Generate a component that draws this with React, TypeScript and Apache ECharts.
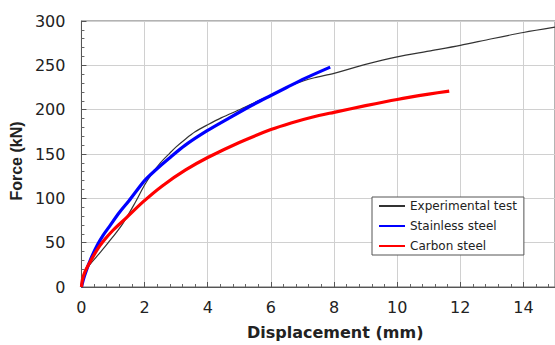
import React, { useEffect, useRef } from "react";
import * as echarts from "echarts";

const seriesNames = ["Experimental test", "Stainless steel", "Carbon steel"];

const expDisp = [0, 0.08, 0.2, 0.5, 0.85, 1.3, 1.7, 2.0, 2.24, 2.5, 2.8, 3.0, 3.3, 3.6, 4.0, 4.44, 5.07, 5.6, 6.0, 6.54, 7.0, 7.38, 8.0, 9.0, 10.0, 11.0, 12.0, 13.0, 14.0, 15.0];
const expForce = [0, 12, 22, 35, 50, 71, 95, 115, 128, 140, 151, 158, 167, 175, 183, 191, 201, 210, 216, 226, 232, 236, 241, 251, 259.5, 266, 272.5, 280, 287, 293];

const stainDisp = [0, 0.1, 0.3, 0.5, 0.68, 0.9, 1.2, 1.5, 2.0, 2.35, 2.77, 3.29, 3.97, 4.65, 5.4, 6.0, 6.5, 7.06, 7.88];
const stainForce = [0, 13, 32, 47, 58, 69, 84, 97, 120, 132, 145, 160, 176, 190, 205, 216, 225, 235, 248];

const carbonDisp = [0, 0.03, 0.11, 0.27, 0.48, 0.69, 1.0, 1.42, 1.95, 2.56, 3.3, 4.0, 5.0, 6.0, 6.64, 7.3, 8.0, 9.0, 10.0, 11.0, 11.65];
const carbonForce = [0, 8, 17, 28, 41, 51.5, 64, 78, 96, 114, 132, 146, 163, 177.5, 185, 191.5, 197, 204.5, 211.5, 217.5, 221];

const xTitle = "Displacement (mm)";
const yTitle = "Force (kN)";

const pairs = (xs: number[], ys: number[]) => xs.map((x, i) => [x, ys[i]]);

export default function App() {
  const ref = useRef<HTMLDivElement>(null);
  useEffect(() => {
    if (!ref.current) return;
    const chart = echarts.init(ref.current, null, { renderer: "svg" });
    const tickFont = { fontFamily: "DejaVu Sans", fontSize: 16, color: "#222" };
    chart.setOption({
      animation: false,
      backgroundColor: "#fff",
      grid: {
        left: 78,
        top: 21,
        right: 0,
        bottom: 58,
        show: true,
        borderColor: "#666",
        borderWidth: 1,
        backgroundColor: "transparent",
      },
      legend: {
        data: seriesNames,
        orient: "vertical",
        left: 372,
        top: 197,
        itemWidth: 26,
        itemHeight: 14,
        itemGap: 8,
        padding: [3, 7, 3, 6],
        borderColor: "#555",
        borderWidth: 1,
        backgroundColor: "#fff",
        itemStyle: { opacity: 0, color: "transparent", borderWidth: 0 },
        textStyle: { fontFamily: "DejaVu Sans", fontSize: 12, color: "#222" },
      },
      xAxis: {
        type: "value",
        min: 0,
        max: 15,
        interval: 2,
        name: xTitle,
        nameLocation: "middle",
        nameGap: 37,
        nameTextStyle: {
          fontFamily: "DejaVu Sans",
          fontWeight: "bold",
          fontSize: 16,
          color: "#222",
          padding: [0, 0, 0, 34],
        },
        axisLine: { lineStyle: { color: "#555", width: 1 } },
        axisTick: { inside: true, length: 5, lineStyle: { color: "#555" } },
        minorTick: { show: true, splitNumber: 5, length: 3, lineStyle: { color: "#666" } },
        axisLabel: { ...tickFont, margin: 12, showMaxLabel: false },
        splitLine: { show: true, lineStyle: { color: "#d0d0d0", width: 1 } },
      },
      yAxis: {
        type: "value",
        min: 0,
        max: 300,
        interval: 50,
        name: yTitle,
        nameLocation: "middle",
        nameGap: 50,
        nameTextStyle: {
          fontFamily: "Liberation Sans",
          fontWeight: "bold",
          fontSize: 16,
          color: "#222",
          padding: [0, 14, 0, 0],
        },
        axisLine: { show: true, lineStyle: { color: "#555", width: 1 } },
        axisTick: { show: true, inside: true, length: 5, lineStyle: { color: "#555" } },
        minorTick: { show: true, splitNumber: 5, length: 3, lineStyle: { color: "#666" } },
        axisLabel: { ...tickFont, margin: 16 },
        splitLine: { show: true, lineStyle: { color: "#d0d0d0", width: 1 } },
      },
      series: [
        {
          name: seriesNames[0],
          type: "line",
          data: pairs(expDisp, expForce),
          symbol: "none",
          smooth: 0.3,
          lineStyle: { color: "#333", width: 1.2 },
          itemStyle: { color: "#333" },
        },
        {
          name: seriesNames[1],
          type: "line",
          data: pairs(stainDisp, stainForce),
          symbol: "none",
          smooth: 0.3,
          lineStyle: { color: "#0000ff", width: 3.2 },
          itemStyle: { color: "#0000ff" },
        },
        {
          name: seriesNames[2],
          type: "line",
          data: pairs(carbonDisp, carbonForce),
          symbol: "none",
          smooth: 0.3,
          lineStyle: { color: "#ff0000", width: 3.2 },
          itemStyle: { color: "#ff0000" },
        },
      ],
    });
    return () => chart.dispose();
  }, []);
  return <div ref={ref} style={{ width: 555, height: 345, position: "absolute", left: 0, top: 0 }} />;
}
